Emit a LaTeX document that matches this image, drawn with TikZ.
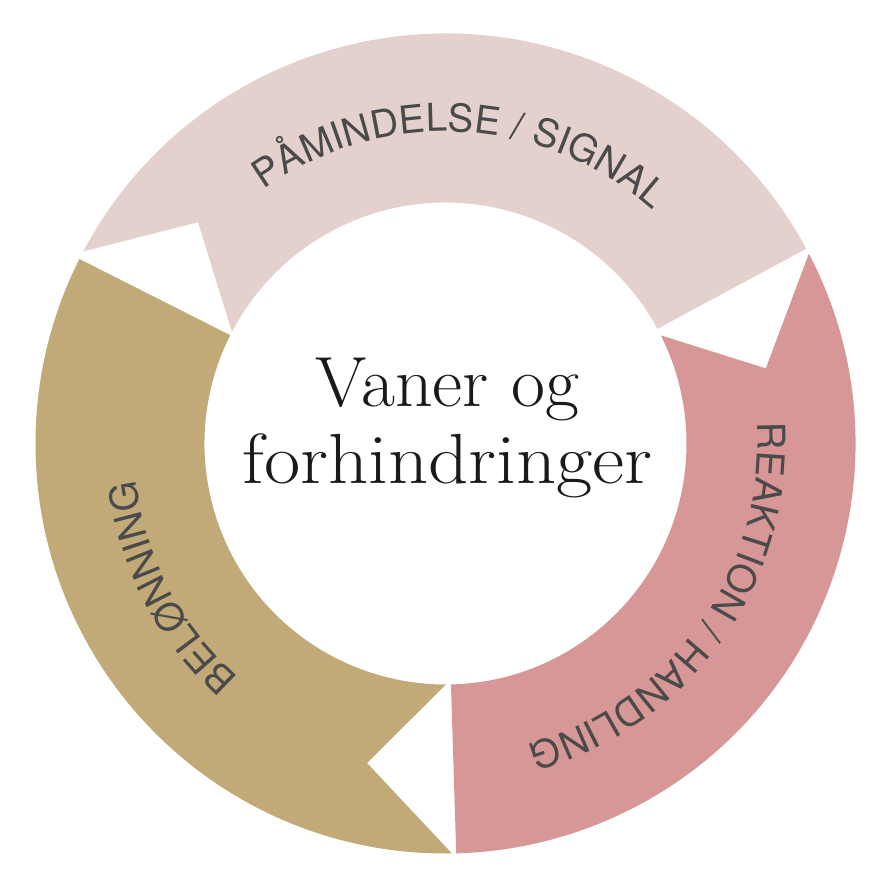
\documentclass[tikz,border=0pt]{standalone}
\usepackage{fontspec}
\usetikzlibrary{decorations.text}
\newfontfamily\heros{TeX Gyre Heros}
\definecolor{segpink}{HTML}{E4D0CC}
\definecolor{segred}{HTML}{D69796}
\definecolor{segtan}{HTML}{C2A978}
\definecolor{lblgray}{HTML}{4A4A4A}
\definecolor{titleink}{HTML}{1A1A1A}
\newcommand\lblfont{\heros\fontsize{38.5}{38.5}\selectfont}
\tikzset{
  ringlabel/.style={decorate, decoration={text along path, text align=center, text color=lblgray}},
  titletext/.style={font=\fontsize{71}{78}\selectfont\addfontfeatures{FakeBold=0.7}, text=titleink, inner sep=0pt, anchor=base}
}
\begin{document}
\begin{tikzpicture}[x=1pt,y=1pt]
\fill[white] (-445.5pt,-442.5pt) rectangle (445.5pt,443.5pt);
\useasboundingbox (-445.5pt,-442.5pt) rectangle (445.5pt,443.5pt);
% pink segment (top)
\fill[segpink] (152.05:410pt) arc[start angle=152.05, end angle=28.37, radius=410pt]
  -- (28.43:241pt) arc[start angle=28.43, end angle=152.4, radius=241pt]
  -- (138.2:332pt) -- cycle;
% red segment (right)
\fill[segred] (27.58:410pt) arc[start angle=27.58, end angle=-88.5, radius=410pt]
  -- (-88.7:241pt) arc[start angle=-88.7, end angle=26.65, radius=241pt]
  -- (13.2:329pt) -- cycle;
% tan segment (left)
\fill[segtan] (-89.1:410pt) arc[start angle=-89.1, end angle=-206.75, radius=410pt]
  -- (-206.7:241pt) arc[start angle=-206.7, end angle=-89.9, radius=241pt]
  -- (-103.8:329pt) -- cycle;
% labels
\path[ringlabel, decoration={text={|\lblfont|PÅMINDELSE / SIGNAL}}]
  (147:312pt) arc[start angle=147, end angle=27, radius=312pt];
\path[ringlabel, decoration={text={|\lblfont|REAKTION / HANDLING}}]
  (24.5:312pt) arc[start angle=24.5, end angle=-95.5, radius=312pt];
\path[ringlabel, decoration={text={|\lblfont|BELØNNING}}]
  (267.6:312pt) arc[start angle=267.6, end angle=147.6, radius=312pt];
% title
\node[titletext] (title1) at (2pt,37.5pt) {\scalebox{1.04}[1]{Vaner og}};
\node[titletext] (title2) at (2pt,-39.5pt) {\scalebox{1.11}[1]{forhindringer}};
\end{tikzpicture}
\end{document}
